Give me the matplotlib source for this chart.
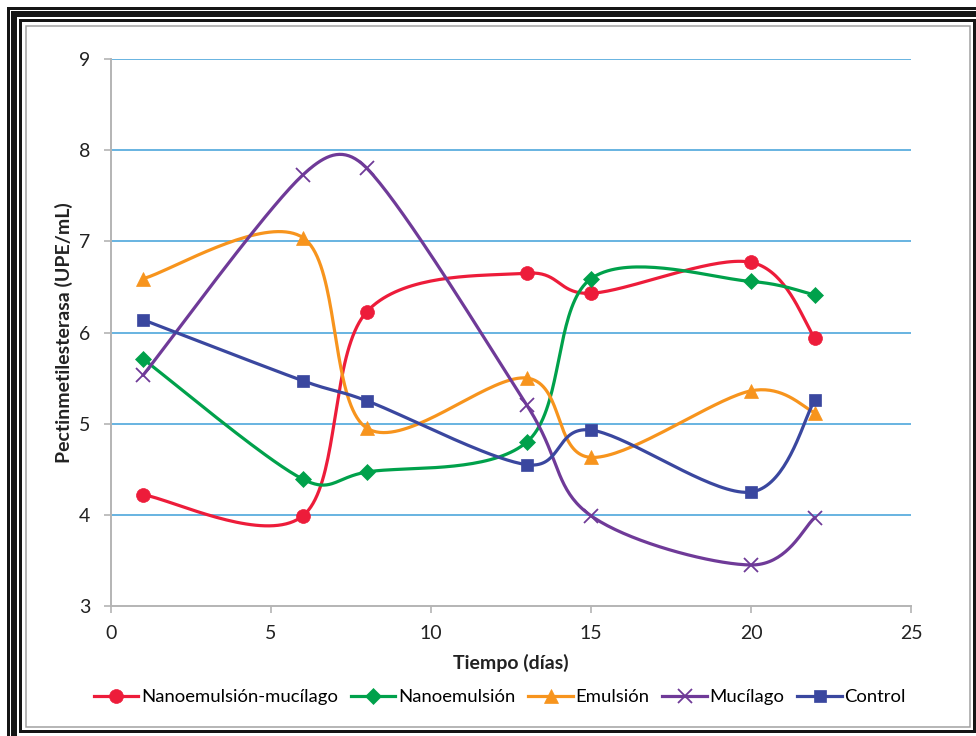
import numpy as np
import matplotlib
matplotlib.use('Agg')
import matplotlib.pyplot as plt
from matplotlib.patches import Rectangle

plt.rcParams['font.family'] = ['Lato', 'DejaVu Sans']

# Days of sampling and enzyme activity (UPE/mL) for each treatment
dias = [1, 6, 8, 13, 15, 20, 22]
nano_mucilago = [4.22, 3.99, 6.23, 6.65, 6.43, 6.77, 5.94]
nanoemulsion = [5.71, 4.39, 4.47, 4.80, 6.59, 6.56, 6.41]
emulsion = [6.59, 7.04, 4.95, 5.50, 4.63, 5.36, 5.12]
mucilago = [5.53, 7.73, 7.80, 5.20, 3.99, 3.45, 3.97]
control = [6.14, 5.47, 5.25, 4.55, 4.93, 4.25, 5.26]

series = [
    ('Nanoemulsión-mucílago', nano_mucilago, '#ED1C3A', 'o', 10),
    ('Nanoemulsión', nanoemulsion, '#00A14B', 'D', 8),
    ('Emulsión', emulsion, '#F7941D', '^', 10),
    ('Mucílago', mucilago, '#6F3A98', 'x', 10),
    ('Control', control, '#3A479F', 's', 8),
]


def smooth(ax, xs, ys, n=40):
    # Bezier smoothing done in screen space, tangents limited to half a segment
    pts = ax.transData.transform(np.column_stack([xs, ys]))
    m = len(pts)
    out = [pts[0]]
    for i in range(m - 1):
        p0 = pts[max(i - 1, 0)]
        p1 = pts[i]
        p2 = pts[i + 1]
        p3 = pts[min(i + 2, m - 1)]
        seg = np.hypot(*(p2 - p1))
        t1 = (p2 - p0) / 6.0
        t2 = (p3 - p1) / 6.0
        for t in (t1, t2):
            ln = np.hypot(*t)
            if ln > seg / 2:
                t *= (seg / 2) / ln
        c1 = p1 + t1
        c2 = p2 - t2
        u = np.linspace(0, 1, n)[1:, None]
        b = ((1 - u) ** 3 * p1 + 3 * (1 - u) ** 2 * u * c1
             + 3 * (1 - u) * u ** 2 * c2 + u ** 3 * p2)
        out.extend(b)
    out = ax.transData.inverted().transform(np.array(out))
    return out[:, 0], out[:, 1]


W, H = 976, 736
fig = plt.figure(figsize=(W / 100, H / 100), dpi=100)
ax = fig.add_axes([111 / W, 1 - 606 / H, 800 / W, 547 / H])
ax.set_xlim(0, 25)
ax.set_ylim(3, 9)

for lab, vals, col, mk, ms in series:
    sx, sy = smooth(ax, dias, vals)
    ax.plot(sx, sy, color=col, lw=2.3, zorder=3, solid_capstyle='round')
    ax.plot(dias, vals, ls='none', marker=mk, ms=ms, color=col,
            mec=col, mew=1.3 if mk == 'x' else 0.5, zorder=4)
    ax.plot([], [], color=col, lw=2.3, marker=mk, ms=ms, mec=col,
            mew=1.3 if mk == 'x' else 0.5, label=lab)

# Grid and axes
ax.set_yticks(range(3, 10))
ax.set_xticks(range(0, 26, 5))
for y in range(4, 10):
    ax.axhline(y, color='#3E9FD9', lw=1.1, zorder=1)
for s in ['top', 'right']:
    ax.spines[s].set_visible(False)
for s in ['left', 'bottom']:
    ax.spines[s].set_color('#B4B4B4')
    ax.spines[s].set_linewidth(1.4)
ax.tick_params(colors='#B4B4B4', length=5, width=1.2, labelcolor='#222222',
               labelsize=14)
ax.tick_params(axis='y', pad=10)
ax.tick_params(axis='x', pad=9)
ax.set_xlabel('Tiempo (días)', fontsize=14, fontweight='bold', labelpad=8,
              color='#222222')
ax.set_ylabel('Pectinmetilesterasa (UPE/mL)', fontsize=14, fontweight='bold',
              labelpad=4, color='#222222')

ax.legend(loc='center', bbox_to_anchor=(500 / W, 1 - 697 / H),
          bbox_transform=fig.transFigure, ncol=5, frameon=False, fontsize=13.3,
          handlelength=2.4, handletextpad=0.15, columnspacing=0.7)

# Frame around the chart
def frame(x0, y0, x1, y1, lw, col):
    fig.add_artist(Rectangle((x0 / W, 1 - y1 / H), (x1 - x0) / W, (y1 - y0) / H,
                             transform=fig.transFigure, fill=False,
                             edgecolor=col, lw=lw * 0.72))

frame(26, 26, 969.5, 727, 1.5, '#A0A0A0')
frame(19.5, 19.5, 974, 731, 3, '#151515')
frame(14, 14, 982, 740, 6, '#151515')
frame(8, 8, 990, 748, 3, '#151515')

fig.savefig('out.png', dpi=100)
